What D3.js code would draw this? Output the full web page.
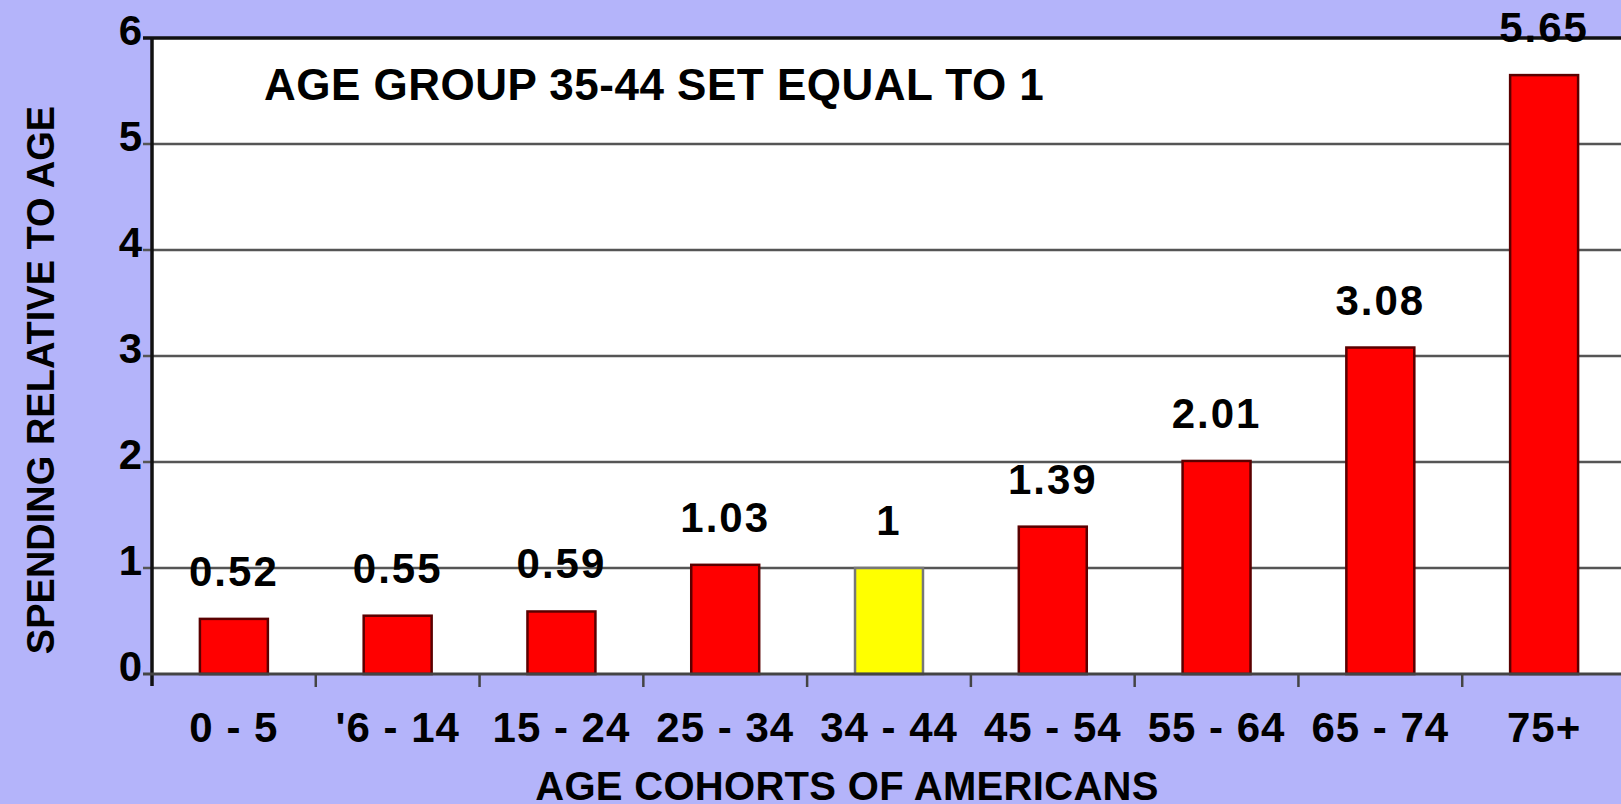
<!DOCTYPE html>
<html>
<head>
<meta charset="utf-8">
<script src="https://cdn.jsdelivr.net/npm/d3@7"></script>
<style>
  html, body { margin: 0; padding: 0; background: #b4b4fa; }
  svg { display: block; }
  text { font-family: "Liberation Sans", Arial, sans-serif; font-weight: bold; fill: #000; }
</style>
</head>
<body>
<div id="chart"></div>
<script>
// data
var cohorts = ["0 - 5", "'6 - 14", "15 - 24", "25 - 34", "34 - 44", "45 - 54", "55 - 64", "65 - 74", "75+"];
var spending = [0.52, 0.55, 0.59, 1.03, 1, 1.39, 2.01, 3.08, 5.65];
var valueLabels = ["0.52", "0.55", "0.59", "1.03", "1", "1.39", "2.01", "3.08", "5.65"];
var baseCohort = "34 - 44";
var yTicks = [0, 1, 2, 3, 4, 5, 6];

var w = 1621, h = 804;
// plot edges (note: "top" is taken by window.top)
var pLeft = 152, pRight = 1626, pTop = 38, pBottom = 674;

var svg = d3.select("#chart")
      .append("svg")
      .attr("width", w)
      .attr("height", h);

var x = d3.scaleBand()
      .domain(cohorts)
      .range([pLeft, pRight])
      .paddingInner(0.585)
      .paddingOuter(0.2925);

var y = d3.scaleLinear()
      .domain([0, 6])
      .range([pBottom, pTop]);

// plot area
svg.append("rect")
   .attr("x", pLeft)
   .attr("y", pTop)
   .attr("width", pRight - pLeft)
   .attr("height", pBottom - pTop)
   .attr("fill", "white");

// gridlines (with little ticks left of the axis)
svg.selectAll(".grid")
   .data(yTicks.filter(function(d) { return d > 0 && d < 6; }))
   .enter()
   .append("line")
   .attr("x1", pLeft - 9)
   .attr("x2", pRight)
   .attr("y1", function(d) { return y(d); })
   .attr("y2", function(d) { return y(d); })
   .attr("stroke", "#555")
   .attr("stroke-width", 2.5);

// bars
svg.selectAll(".bar")
   .data(spending)
   .enter()
   .append("rect")
   .attr("x", function(d, i) { return x(cohorts[i]); })
   .attr("y", function(d) { return y(d); })
   .attr("width", x.bandwidth())
   .attr("height", function(d) { return y(0) - y(d); })
   .attr("fill", function(d, i) { return cohorts[i] === baseCohort ? "#ffff00" : "#ff0000"; })
   .attr("stroke", function(d, i) { return cohorts[i] === baseCohort ? "#777" : "#5a0000"; })
   .attr("stroke-width", 2.5);

// top frame and left axis
svg.append("line")
   .attr("x1", pLeft - 9).attr("x2", pRight)
   .attr("y1", pTop).attr("y2", pTop)
   .attr("stroke", "#111").attr("stroke-width", 3.5);
svg.append("line")
   .attr("x1", pLeft).attr("x2", pLeft)
   .attr("y1", pTop).attr("y2", pBottom + 12)
   .attr("stroke", "#111").attr("stroke-width", 3.5);

// zero line
svg.append("line")
   .attr("x1", pLeft - 9).attr("x2", pRight)
   .attr("y1", y(0)).attr("y2", y(0))
   .attr("stroke", "#444").attr("stroke-width", 3);

// x boundary ticks
var step = x.step();
svg.selectAll(".xtick")
   .data(cohorts.slice(1))
   .enter()
   .append("line")
   .attr("x1", function(d) { return x(d) - step * x.paddingInner() / 2; })
   .attr("x2", function(d) { return x(d) - step * x.paddingInner() / 2; })
   .attr("y1", y(0))
   .attr("y2", y(0) + 13)
   .attr("stroke", "#444")
   .attr("stroke-width", 2.5);

// y axis labels
var yAxis = svg.append("g")
      .attr("transform", "translate(" + (pLeft - 10) + ",0)")
      .call(d3.axisLeft(y).tickValues(yTicks).tickSize(0).tickPadding(0).tickFormat(d3.format("d")));
yAxis.select(".domain").remove();
yAxis.selectAll("text")
     .attr("dy", null)
     .attr("y", 6)
     .attr("font-family", null)
     .attr("font-size", "42px")
     .attr("fill", "#000");

// x axis labels
var xAxis = svg.append("g")
      .attr("transform", "translate(0," + y(0) + ")")
      .call(d3.axisBottom(x).tickSize(0).tickPadding(0));
xAxis.select(".domain").remove();
xAxis.selectAll("text")
     .attr("dy", null)
     .attr("y", 68)
     .attr("font-family", null)
     .attr("font-size", "42px")
     .attr("letter-spacing", "1px")
     .attr("fill", "#000");

// value labels
svg.selectAll(".val")
   .data(spending)
   .enter()
   .append("text")
   .text(function(d, i) { return valueLabels[i]; })
   .attr("text-anchor", "middle")
   .attr("x", function(d, i) { return x(cohorts[i]) + x.bandwidth() / 2; })
   .attr("y", function(d) { return y(d) - 33; })
   .attr("font-size", "42px")
   .attr("letter-spacing", "2px");

// chart note
svg.append("text")
   .text("AGE GROUP 35-44 SET EQUAL TO 1")
   .attr("x", 264)
   .attr("y", 100)
   .attr("font-size", "44px")
   .attr("letter-spacing", "0.5px");

// axis titles
svg.append("text")
   .text("SPENDING RELATIVE TO AGE")
   .attr("text-anchor", "middle")
   .attr("transform", "translate(54,380) rotate(-90)")
   .attr("font-size", "38px");

svg.append("text")
   .text("AGE COHORTS OF AMERICANS")
   .attr("text-anchor", "middle")
   .attr("x", 847)
   .attr("y", 800)
   .attr("font-size", "40px")
   .attr("letter-spacing", "0.3px");
</script>
</body>
</html>
